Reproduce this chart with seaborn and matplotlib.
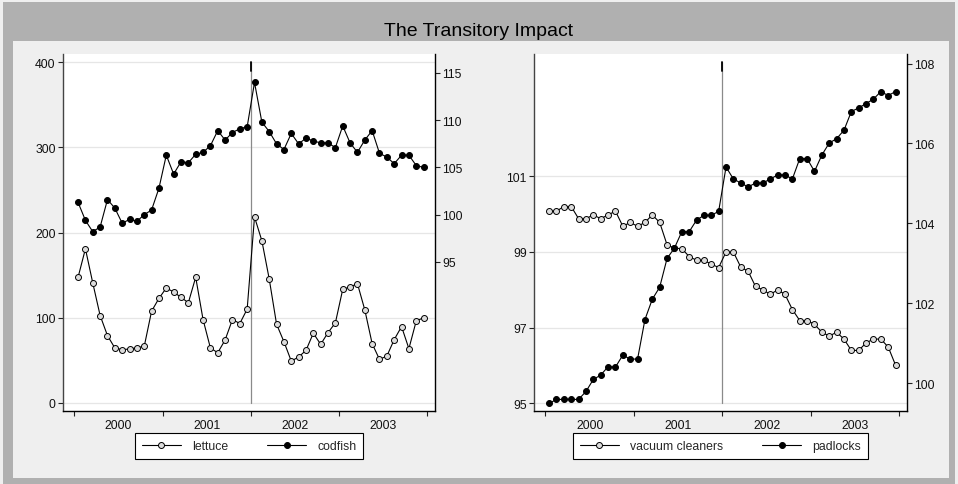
import numpy as np
import pandas as pd
import matplotlib
matplotlib.use("Agg")
import matplotlib.pyplot as plt
from matplotlib.patches import Rectangle
from matplotlib.lines import Line2D
import seaborn as sns

# Monthly observations, Jan 2000 - Dec 2003
years = ["2000", "2001", "2002", "2003"]
months = np.arange(48)

lettuce = [147.6, 181.0, 140.9, 102.7, 79.1, 64.6, 62.6, 63.4, 64.9, 66.5, 107.8, 122.8,
           135.0, 130.3, 124.0, 117.7, 147.6, 98.0, 64.6, 59.0, 74.0, 98.0, 93.3, 110.2,
           218.4, 190.5, 145.6, 92.5, 72.0, 49.2, 54.0, 61.8, 81.9, 68.9, 82.6, 94.1,
           133.4, 136.2, 140.1, 109.4, 69.7, 51.2, 55.1, 74.4, 89.7, 63.8, 96.4, 100.0]
codfish = [101.3, 99.4, 98.2, 98.7, 101.6, 100.7, 99.1, 99.5, 99.3, 100.0, 100.5, 102.8,
           106.3, 104.3, 105.6, 105.5, 106.4, 106.6, 107.3, 108.9, 107.9, 108.7, 109.1, 109.3,
           114.0, 109.8, 108.8, 107.5, 106.9, 108.6, 107.5, 108.1, 107.8, 107.6, 107.6, 107.1,
           109.4, 107.6, 106.6, 107.9, 108.9, 106.5, 106.1, 105.4, 106.3, 106.3, 105.2, 105.0]
vacuum_cleaners = [100.08, 100.08, 100.2, 100.2, 99.88, 99.88, 99.98, 99.88, 99.98, 100.08, 99.68, 99.78,
                   99.68, 99.78, 99.98, 99.78, 99.19, 99.1, 99.09, 98.88, 98.78, 98.78, 98.68, 98.59,
                   99.0, 99.0, 98.6, 98.49, 98.09, 98.0, 97.88, 98.0, 97.88, 97.48, 97.19, 97.19,
                   97.09, 96.88, 96.78, 96.88, 96.7, 96.4, 96.4, 96.6, 96.7, 96.7, 96.49, 96.01]
padlocks = [99.49, 99.59, 99.59, 99.59, 99.59, 99.79, 100.09, 100.2, 100.41, 100.4, 100.7, 100.6,
            100.6, 101.59, 102.1, 102.4, 103.12, 103.38, 103.79, 103.79, 104.08, 104.2, 104.2, 104.3,
            105.41, 105.11, 105.01, 104.91, 105.01, 105.01, 105.11, 105.21, 105.21, 105.11, 105.62, 105.62,
            105.3, 105.71, 106.01, 106.12, 106.33, 106.8, 106.89, 107.0, 107.11, 107.3, 107.2, 107.3]

sns.set_style("white")
plt.rcParams["font.family"] = ["Liberation Sans", "DejaVu Sans"]

W, H = 958, 485
fig = plt.figure(figsize=(W / 100, H / 100), dpi=100)
fig.patch.set_facecolor("#efefef")


def box(x0, y0, x1, y1):
    """Pixel box (top-left origin) -> figure-fraction rect."""
    return [x0 / W, 1 - y1 / H, (x1 - x0) / W, (y1 - y0) / H]


r = box(3, 3, 955, 485)
fig.add_artist(Rectangle((r[0], r[1]), r[2], r[3], transform=fig.transFigure,
                         facecolor="#b0b0b0", edgecolor="none", zorder=-5))
r = box(13, 42, 949, 479)
fig.add_artist(Rectangle((r[0], r[1]), r[2], r[3], transform=fig.transFigure,
                         facecolor="#efefef", edgecolor="none", zorder=-4))
fig.text(479 / W, 1 - 31 / H, "The Transitory Impact", ha="center", va="center",
         fontsize=14, color="black")

LW = 0.8
MS = 4.3
OPEN = dict(marker="o", markersize=MS, markerfacecolor="#dcdcdc",
            markeredgecolor="black", markeredgewidth=0.7)
FILLED = dict(marker="o", markersize=MS, markerfacecolor="black",
              markeredgecolor="black", markeredgewidth=0.7)
FS = 8.8


def panel(rect, left_vals, right_vals, left_name, right_name,
          ylim_l, ylim_r, yticks_l, yticks_r):
    ax = fig.add_axes(rect)
    ax.set_facecolor("white")
    ax2 = ax.twinx()
    df = pd.DataFrame({"month": months, left_name: left_vals, right_name: right_vals})

    sns.lineplot(data=df, x="month", y=left_name, ax=ax, color="black",
                 linewidth=LW, zorder=3, **OPEN)
    sns.lineplot(data=df, x="month", y=right_name, ax=ax2, color="black",
                 linewidth=LW, zorder=3, **FILLED)

    for a in (ax, ax2):
        a.set_xlabel("")
        a.set_ylabel("")
        a.set_xlim(-2.05, 48.55)
        a.spines["top"].set_visible(False)
    ax.set_ylim(*ylim_l)
    ax2.set_ylim(*ylim_r)
    ax.set_yticks(yticks_l)
    ax.set_yticklabels([f"{v:g}" for v in yticks_l])
    ax2.set_yticks(yticks_r)
    ax2.set_yticklabels([f"{v:g}" for v in yticks_r])

    ax.spines["right"].set_visible(False)
    ax2.spines["left"].set_visible(False)
    ax2.spines["bottom"].set_visible(False)
    ax.spines["left"].set_color("#444444")
    ax.spines["bottom"].set_color("black")
    ax2.spines["right"].set_color("black")
    for s in (ax.spines["left"], ax.spines["bottom"], ax2.spines["right"]):
        s.set_linewidth(1.0)

    # year boundaries as ticks, year names centred between them
    ax.set_xticks([-0.5, 11.5, 23.5, 35.5, 47.5])
    ax.set_xticklabels([])
    ax.set_xticks([5.5, 17.5, 29.5, 41.5], minor=True)
    ax.set_xticklabels(years, minor=True)
    ax.tick_params(axis="x", which="major", direction="out", length=3.5,
                   width=0.8, color="#222222", bottom=True)
    ax.tick_params(axis="x", which="minor", length=0, pad=5.5,
                   labelsize=FS, labelcolor="#111111", bottom=True)
    ax.tick_params(axis="y", direction="out", length=3.3, width=0.8,
                   color="#222222", labelsize=FS, labelcolor="#111111", pad=2,
                   left=True)
    ax2.tick_params(axis="y", direction="out", length=3.3, width=0.8,
                    color="#222222", labelsize=FS, labelcolor="#111111", pad=2,
                    right=True)

    ax.grid(axis="y", color="#e6e6e6", linewidth=0.9)
    ax.grid(axis="x", visible=False)
    ax2.grid(False)
    ax.set_axisbelow(True)

    # event marker line
    tr = ax.get_xaxis_transform()
    ax.plot([23.5, 23.5], [0.0224, 0.9776], transform=tr, color="#8a8a8a",
            linewidth=0.9, zorder=1.5)
    ax.plot([23.5, 23.5], [0.952, 0.9776], transform=tr, color="black",
            linewidth=1.3, zorder=1.6)

    handles = [Line2D([], [], color="black", linewidth=LW, **OPEN),
               Line2D([], [], color="black", linewidth=LW, **FILLED)]
    leg = ax.legend(handles, [left_name, right_name], loc="center",
                    bbox_to_anchor=(0.5, -0.098), ncol=2, frameon=True,
                    fancybox=False, edgecolor="black", framealpha=1,
                    facecolor="white", fontsize=FS, handlelength=3.2,
                    handletextpad=0.9, columnspacing=3.2, borderpad=0.55)
    leg.get_frame().set_linewidth(0.8)
    return ax, ax2


panel(box(63, 55, 435, 412), lettuce, codfish, "lettuce", "codfish",
      (-9.4, 409.7), (79.22, 117.01), [0, 100, 200, 300, 400],
      [95, 100, 105, 110, 115])
panel(box(534, 55, 907, 412), vacuum_cleaners, padlocks, "vacuum cleaners", "padlocks",
      (94.8, 104.23), (99.30, 108.24), [95, 97, 99, 101],
      [100, 102, 104, 106, 108])

fig.savefig("out.png", dpi=100)
